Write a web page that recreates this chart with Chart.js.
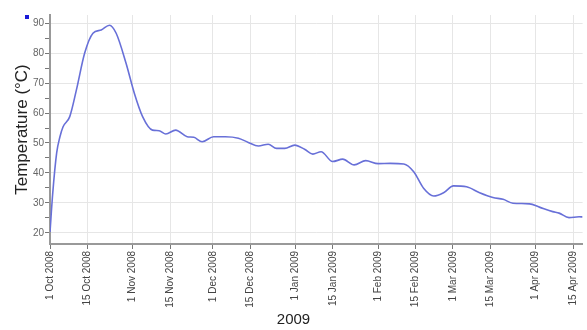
<!DOCTYPE html>
<html><head><meta charset="utf-8">
<script src="https://cdn.jsdelivr.net/npm/chart.js@4/dist/chart.umd.min.js"></script>
<style>html,body{margin:0;padding:0;background:#fff}#wrap{width:587px;height:330px}</style>
</head><body><div id="wrap"><canvas id="c" width="587" height="330"></canvas></div>
<script>
// days since 1 Oct 2008
const days = [0, 1, 2.5, 3.7, 4.9, 7.4, 9.9, 13, 16.1, 19.2, 22.3, 24.8, 28.5, 31.6, 34.7, 38.4, 40.9, 43.4, 47.1, 51.4, 53.9, 57, 61.3, 65.7, 70.6, 74.3, 78.1, 81.8, 84.9, 88, 91.7, 95.4, 98.5, 101.6, 105.9, 109.7, 114, 118.3, 123, 127.5, 132.6, 136.3, 140, 143.8, 147.5, 151.2, 156.1, 161, 166, 169.8, 173.5, 179.7, 183.4, 188.4, 190.8, 194.5, 198.3, 199.6];
const temps = [20.3, 33, 46.7, 52, 55.4, 58.8, 67.7, 80, 86.6, 87.7, 89.3, 86.6, 76.6, 66.6, 58.8, 54.3, 54.1, 53, 54.3, 52.1, 51.9, 50.4, 52.1, 52.1, 51.6, 50.2, 49, 49.6, 48.2, 48.2, 49.3, 47.9, 46.3, 47.1, 43.8, 44.6, 42.7, 44.1, 43.1, 43.2, 43, 40.4, 34.9, 32.3, 33.4, 35.7, 35.4, 33.4, 31.8, 31.2, 29.9, 29.7, 28.6, 27.1, 26.6, 25.1, 25.4, 25.3];
const tickDays = [0, 14, 31, 45, 61, 75, 92, 106, 123, 137, 151, 165, 182, 196];
const tickLabels = ['1 Oct 2008','15 Oct 2008','1 Nov 2008','15 Nov 2008','1 Dec 2008','15 Dec 2008','1 Jan 2009','15 Jan 2009','1 Feb 2009','15 Feb 2009','1 Mar 2009','15 Mar 2009','1 Apr 2009','15 Apr 2009'];
const yTicks = [20, 25, 30, 35, 40, 45, 50, 55, 60, 65, 70, 75, 80, 85, 90];

const FONT = "'Liberation Sans', Arial, sans-serif";
const marker = {
  id: 'marker',
  afterDraw(chart) {
    const c = chart.ctx;
    c.save();
    c.fillStyle = '#1a1ad8';
    c.fillRect(25, 15, 4, 4);
    c.restore();
  }
};

new Chart(document.getElementById('c'), {
  type: 'line',
  data: {
    datasets: [{
      data: days.map((d, i) => ({x: d, y: temps[i]})),
      borderColor: '#6870d8',
      borderWidth: 1.6,
      pointRadius: 0,
      fill: false,
      cubicInterpolationMode: 'monotone'
    }]
  },
  options: {
    responsive: false,
    animation: false,
    layout: {padding: {top: 15, right: 0, left: 0, bottom: 0}},
    plugins: {
      legend: {display: false}, tooltip: {enabled: false},
      title: {display: true, position: 'bottom', text: '2009', color: '#222',
              font: {family: FONT, size: 15, weight: 'normal'}, padding: {top: 0, bottom: 1}}
    },
    scales: {
      x: {
        type: 'linear',
        min: 0, max: 199.6,
        afterBuildTicks: s => { s.ticks = tickDays.map(v => ({value: v})); },
        afterFit: s => { s.height = 67; },
        ticks: {
          autoSkip: false, minRotation: 90, maxRotation: 90, padding: 2,
          color: '#444', font: {family: FONT, size: 10},
          callback: v => tickLabels[tickDays.indexOf(v)]
        },
        grid: {color: '#e6e6e6', tickColor: '#777', tickLength: 5, lineWidth: 1},
        border: {color: '#999', width: 2}
      },
      y: {
        min: 16.3, max: 92.7,
        afterBuildTicks: s => { s.ticks = yTicks.map(v => ({value: v})); },
        afterFit: s => { s.width = 50; },
        ticks: {
          padding: 1, color: '#666', font: {family: FONT, size: 10},
          callback: v => (v % 10 === 0 ? String(v) : '')
        },
        grid: {
          color: ctx => (ctx.tick && ctx.tick.value % 10 === 0 ? '#e6e6e6' : 'rgba(0,0,0,0)'),
          tickColor: '#777', tickLength: 5, lineWidth: 1
        },
        border: {color: '#999', width: 2},
        title: {display: true, text: 'Temperature (°C)', color: '#222', font: {family: FONT, size: 17}, padding: {top: 12, bottom: 0}}
      }
    }
  },
  plugins: [marker]
});
</script></body></html>
